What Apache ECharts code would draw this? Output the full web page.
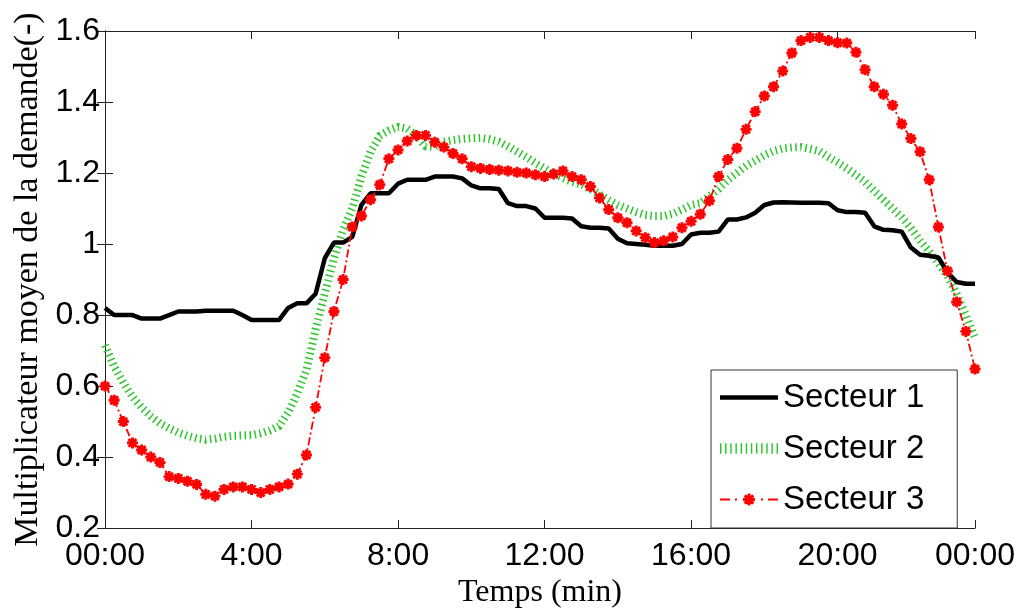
<!DOCTYPE html>
<html>
<head>
<meta charset="utf-8">
<script src="https://cdn.jsdelivr.net/npm/echarts@6/dist/echarts.min.js"></script>
<style>
html, body { margin: 0; padding: 0; background: #fff; }
#chart { width: 1021px; height: 614px; }
</style>
</head>
<body>
<div id="chart"></div>
<script>
// one value every 15 min, from 00:00 to 23:45
const stepHours = 0.25
const seriesNames = ['Secteur 1', 'Secteur 2', 'Secteur 3']
const xTickLabels = ['00:00', '4:00', '8:00', '12:00', '16:00', '20:00', '00:00']

const secteur1 = [
  0.82, 0.80, 0.80, 0.80, 0.79, 0.79, 0.79, 0.80,
  0.81, 0.81, 0.81, 0.812, 0.812, 0.812, 0.812, 0.80,
  0.786, 0.786, 0.786, 0.786, 0.82, 0.833, 0.833, 0.86,
  0.96, 1.004, 1.004, 1.02, 1.11, 1.143, 1.143, 1.143,
  1.17, 1.181, 1.181, 1.181, 1.19, 1.19, 1.19, 1.185,
  1.165, 1.157, 1.157, 1.155, 1.115, 1.107, 1.107, 1.10,
  1.074, 1.074, 1.074, 1.072, 1.05, 1.046, 1.046, 1.044,
  1.015, 1.002, 1.0, 0.998, 0.995, 0.995, 0.995, 1.0,
  1.027, 1.032, 1.032, 1.035, 1.069, 1.069, 1.075, 1.088,
  1.11, 1.117, 1.118, 1.117, 1.116, 1.116, 1.116, 1.115,
  1.095, 1.09, 1.09, 1.088, 1.05, 1.04, 1.039, 1.035,
  0.99, 0.97, 0.967, 0.962, 0.92, 0.893, 0.888, 0.888
]

const secteur2 = [
  0.715, 0.655, 0.61, 0.57, 0.54, 0.515, 0.495, 0.481,
  0.469, 0.46, 0.453, 0.449, 0.452, 0.457, 0.46, 0.461,
  0.462, 0.467, 0.475, 0.487, 0.525, 0.58, 0.645, 0.76,
  0.86, 0.96, 1.04, 1.10, 1.19, 1.26, 1.305, 1.32,
  1.33, 1.325, 1.306, 1.275, 1.275, 1.288, 1.293, 1.296,
  1.298, 1.299, 1.295, 1.288, 1.275, 1.26, 1.245, 1.228,
  1.213, 1.198, 1.186, 1.175, 1.168, 1.155, 1.14, 1.124,
  1.11, 1.10, 1.09, 1.082, 1.079, 1.079, 1.085, 1.097,
  1.11, 1.115, 1.135, 1.155, 1.18, 1.20, 1.22, 1.235,
  1.25, 1.262, 1.269, 1.272, 1.273, 1.268, 1.262, 1.245,
  1.23, 1.213, 1.195, 1.175, 1.15, 1.125, 1.10, 1.075,
  1.045, 1.01, 0.98, 0.945, 0.91, 0.86, 0.80, 0.735
]

const secteur3 = [
  0.60, 0.56, 0.50, 0.44, 0.42, 0.40, 0.385, 0.345,
  0.34, 0.332, 0.323, 0.295, 0.29, 0.309, 0.316, 0.316,
  0.309, 0.30, 0.309, 0.316, 0.324, 0.352, 0.406, 0.54,
  0.68, 0.81, 0.90, 1.048, 1.079, 1.125, 1.167, 1.24,
  1.265, 1.29, 1.306, 1.306, 1.287, 1.273, 1.255, 1.24,
  1.218, 1.213, 1.21, 1.208, 1.206, 1.202, 1.20, 1.195,
  1.19, 1.197, 1.206, 1.19, 1.181, 1.162, 1.13, 1.097,
  1.074, 1.06, 1.037, 1.018, 1.004, 1.009, 1.02, 1.046,
  1.064, 1.084, 1.122, 1.19, 1.238, 1.27, 1.323, 1.373,
  1.417, 1.443, 1.487, 1.538, 1.573, 1.582, 1.582, 1.573,
  1.567, 1.566, 1.54, 1.491, 1.443, 1.422, 1.391, 1.338,
  1.297, 1.26, 1.181, 1.048, 0.924, 0.837, 0.754, 0.648
]

const xMax = (secteur1.length - 1) * stepHours

// matlab-like '*' marker
const starPath = 'path://M-1.6,-6L1.6,-6L1.6,6L-1.6,6Z' +
  'M-6,-1.6L6,-1.6L6,1.6L-6,1.6Z' +
  'M-5.37,-3.11L-3.11,-5.37L5.37,3.11L3.11,5.37Z' +
  'M-3.11,5.37L-5.37,3.11L3.11,-5.37L5.37,-3.11Z'

// legend samples
let dotted = ''
for (let i = 0; i < 12; i++) {
  let x = i * 5
  dotted += 'M' + x + ',0L' + (x + 1.4) + ',0L' + (x + 1.4) + ',10L' + x + ',10Z'
}
const iconSolid = 'path://M0,0L58,0L58,4.5L0,4.5Z'
const iconDotted = 'path://' + dotted
const iconDashDot = 'path://M0,5L10,5L10,7L0,7Z M15,5L17,5L17,7L15,7Z' +
  'M27.6,0L30.4,0L30.4,12L27.6,12Z M23,4.6L35,4.6L35,7.4L23,7.4Z' +
  'M23.63,2.89L25.89,0.63L34.37,9.11L32.11,11.37Z M25.89,11.37L23.63,9.11L32.11,0.63L34.37,2.89Z' +
  'M41,5L43,5L43,7L41,7Z M48,5L58,5L58,7L48,7Z'

function toPoints (values) {
  return values.map((v, i) => [i * stepHours, v])
}

function xLabel (v) {
  if (v >= xMax - 1e-6) return xTickLabels[xTickLabels.length - 1]
  return xTickLabels[Math.round(v / 4)]
}

const sans = 'Liberation Sans, Arial, sans-serif'
const serif = 'Liberation Serif, Times New Roman, serif'
const axisColor = '#222'

const chart = echarts.init(document.getElementById('chart'))
chart.setOption({
  animation: false,
  backgroundColor: '#fff',
  grid: { left: 105, right: 46, top: 31, bottom: 80 },
  legend: {
    orient: 'vertical',
    left: 711,
    top: 370,
    itemWidth: 58,
    itemHeight: 14,
    itemGap: 18,
    padding: [11, 33, 12, 9],
    borderColor: '#333',
    borderWidth: 1,
    backgroundColor: '#fff',
    selectedMode: false,
    itemStyle: { borderWidth: 0 },
    textStyle: { fontSize: 33, lineHeight: 33, fontFamily: sans, color: '#000' },
    data: [
      { name: seriesNames[0], icon: iconSolid },
      { name: seriesNames[1], icon: iconDotted },
      { name: seriesNames[2], icon: iconDashDot }
    ]
  },
  xAxis: [
    {
      type: 'value',
      min: 0,
      max: xMax,
      interval: 4,
      name: 'Temps (min)',
      nameLocation: 'middle',
      nameGap: 43,
      nameTextStyle: { fontSize: 32, fontFamily: serif, color: '#000' },
      axisLine: { lineStyle: { color: axisColor } },
      axisTick: { inside: true, length: 8, lineStyle: { color: axisColor } },
      axisLabel: {
        fontSize: 32, fontFamily: sans, color: '#000', margin: 12,
        showMinLabel: true, showMaxLabel: true, formatter: xLabel
      },
      splitLine: { show: false }
    },
    {
      type: 'value',
      position: 'top',
      min: 0,
      max: xMax,
      interval: 4,
      axisLine: { lineStyle: { color: axisColor } },
      axisTick: { inside: true, length: 8, lineStyle: { color: axisColor } },
      axisLabel: { show: false },
      splitLine: { show: false }
    }
  ],
  yAxis: [
    {
      type: 'value',
      min: 0.2,
      max: 1.6,
      interval: 0.2,
      name: 'Multiplicateur moyen de la demande(-)',
      nameLocation: 'middle',
      nameGap: 58,
      nameTextStyle: { fontSize: 34, fontFamily: serif, color: '#000' },
      axisLine: { show: true, lineStyle: { color: axisColor } },
      axisTick: { show: true, inside: true, length: 8, lineStyle: { color: axisColor } },
      axisLabel: { fontSize: 32, fontFamily: sans, color: '#000', margin: 5, showMinLabel: true, showMaxLabel: true },
      splitLine: { show: false }
    },
    {
      type: 'value',
      position: 'right',
      min: 0.2,
      max: 1.6,
      interval: 0.2,
      axisLine: { show: true, lineStyle: { color: axisColor } },
      axisTick: { show: true, inside: true, length: 8, lineStyle: { color: axisColor } },
      axisLabel: { show: false },
      splitLine: { show: false }
    }
  ],
  series: [
    {
      name: seriesNames[0],
      type: 'line',
      data: toPoints(secteur1),
      symbol: 'none',
      itemStyle: { color: '#000' },
      lineStyle: { color: '#000', width: 4.5 },
      emphasis: { disabled: true },
      z: 3
    },
    {
      name: seriesNames[1],
      type: 'line',
      data: toPoints(secteur2),
      symbol: 'none',
      itemStyle: { color: '#2ec42e' },
      lineStyle: { color: '#2ec42e', width: 8, type: [1.5, 3.5], cap: 'butt' },
      emphasis: { disabled: true },
      z: 2
    },
    {
      name: seriesNames[2],
      type: 'line',
      data: toPoints(secteur3),
      symbol: starPath,
      symbolSize: 11,
      showSymbol: true,
      itemStyle: { color: '#ff0000' },
      lineStyle: { color: '#ff0000', width: 1.8, type: [8, 3, 2, 3] },
      emphasis: { disabled: true },
      z: 4
    }
  ]
})
</script>
</body>
</html>
